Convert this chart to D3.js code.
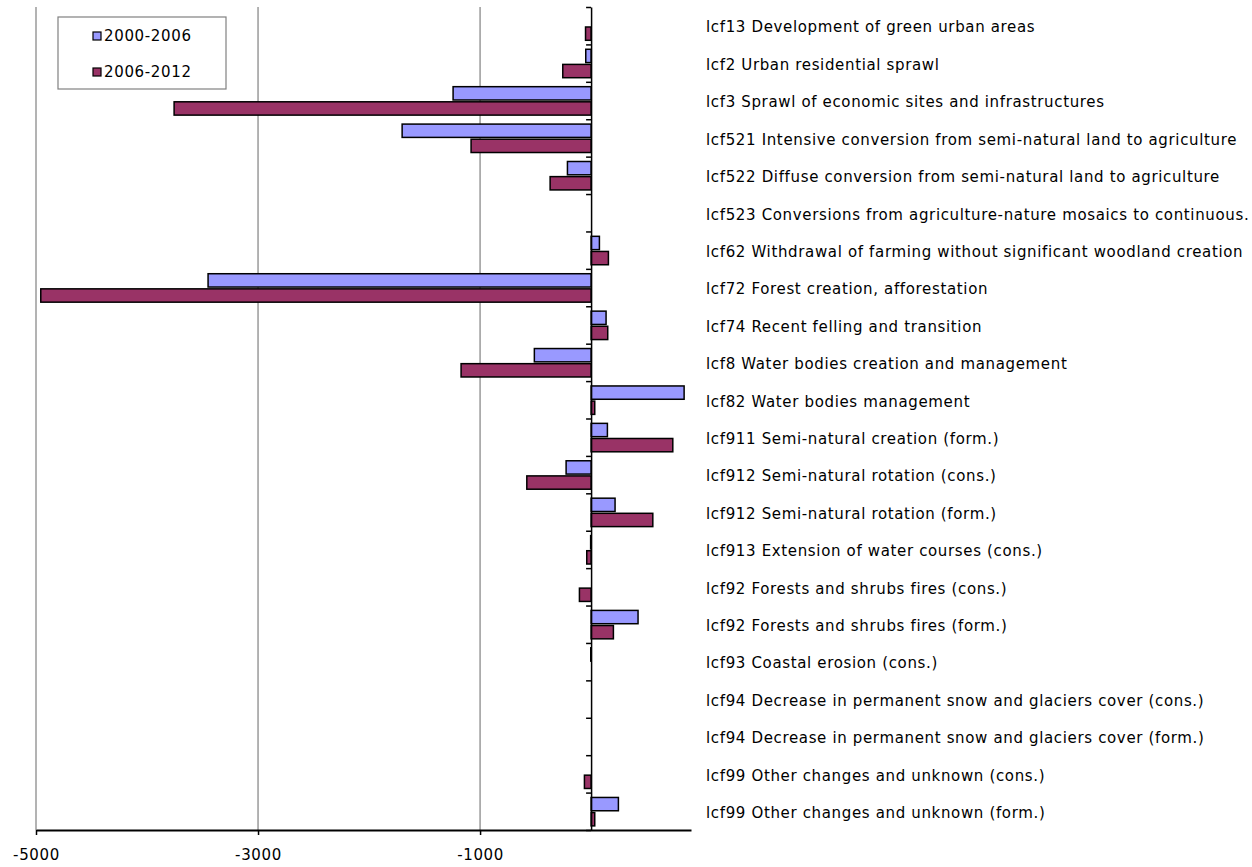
<!DOCTYPE html>
<html>
<head>
<meta charset="UTF-8">
<script src="https://d3js.org/d3.v7.min.js"></script>
<style>
  body { margin: 0; background: #fff; font-family: "DejaVu Sans", Verdana, sans-serif; }
  .cat-label { font-size: 15px; letter-spacing: 0.65px; fill: #000; }
  .x-label { font-size: 15px; letter-spacing: 0.65px; fill: #000; }
  .legend-text { font-size: 15px; letter-spacing: 0.65px; fill: #000; }
</style>
</head>
<body>
<svg width="1252" height="867"></svg>
<script>
const categories = [
  "lcf13 Development of green urban areas",
  "lcf2 Urban residential sprawl",
  "lcf3 Sprawl of economic sites and infrastructures",
  "lcf521 Intensive conversion from semi-natural land to agriculture",
  "lcf522 Diffuse conversion from semi-natural land to agriculture",
  "lcf523 Conversions from agriculture-nature mosaics to continuous.",
  "lcf62 Withdrawal of farming without significant woodland creation",
  "lcf72 Forest creation, afforestation",
  "lcf74 Recent felling and transition",
  "lcf8 Water bodies creation and management",
  "lcf82 Water bodies management",
  "lcf911 Semi-natural creation (form.)",
  "lcf912 Semi-natural rotation (cons.)",
  "lcf912 Semi-natural rotation (form.)",
  "lcf913 Extension of water courses (cons.)",
  "lcf92 Forests and shrubs fires (cons.)",
  "lcf92 Forests and shrubs fires (form.)",
  "lcf93 Coastal erosion (cons.)",
  "lcf94 Decrease in permanent snow and glaciers cover (cons.)",
  "lcf94 Decrease in permanent snow and glaciers cover (form.)",
  "lcf99 Other changes and unknown (cons.)",
  "lcf99 Other changes and unknown (form.)"
];
const seriesNames = ["2000-2006", "2006-2012"];
const values2000_2006 = [0, -48, -1243, -1702, -213, 0, 75, -3450, 135, -511, 838, 147, -225, 216, -4, 0, 423, -3, 0, 0, 0, 246];
const values2006_2012 = [-50, -255, -3756, -1081, -369, 0, 156, -4957, 150, -1171, 33, 736, -579, 556, -39, -105, 201, 0, 0, 0, -60, 33];
const xTicks = [-5000, -3000, -1000];
const colors = ["#9999ff", "#993366"];

const svg = d3.select("svg");
const plot = { left: 36, right: 691, top: 7, bottom: 830 };

const x = d3.scaleLinear().domain([-5000, 900]).range([plot.left, plot.right]);
const y = d3.scaleBand().domain(categories).range([plot.top, plot.bottom]).padding(0);
const ySub = d3.scaleBand().domain(seriesNames)
  .range([y.bandwidth() * 0.13, y.bandwidth() * 0.89]).paddingInner(0.12);
const color = d3.scaleOrdinal(seriesNames, colors);

const rows = categories.map((c, i) => ({ cat: c, vals: [values2000_2006[i], values2006_2012[i]] }));

// gridlines
svg.append("g").selectAll("line").data(xTicks).join("line")
  .attr("x1", d => x(d)).attr("x2", d => x(d))
  .attr("y1", plot.top).attr("y2", plot.bottom)
  .attr("stroke", "#808080").attr("stroke-width", 1.2);

// bars
const groups = svg.append("g").selectAll("g").data(rows).join("g")
  .attr("transform", d => `translate(0,${y(d.cat)})`);
groups.selectAll("rect")
  .data(d => d.vals.map((v, k) => ({ s: seriesNames[k], v })).filter(e => e.v !== 0))
  .join("rect")
  .attr("x", e => x(Math.min(0, e.v)))
  .attr("width", e => Math.abs(x(e.v) - x(0)))
  .attr("y", e => ySub(e.s))
  .attr("height", ySub.bandwidth())
  .attr("fill", e => color(e.s))
  .attr("stroke", "#000").attr("stroke-width", 1.5);

// vertical zero axis with ticks at category boundaries
const yEdges = d3.scaleLinear().domain([0, categories.length]).range([plot.top, plot.bottom]);
svg.append("g")
  .attr("transform", `translate(${x(0)},0)`)
  .call(d3.axisLeft(yEdges).tickValues(d3.range(categories.length + 1)).tickFormat("").tickSize(5).tickSizeOuter(0))
  .call(g => g.selectAll("line, path").attr("stroke", "#000").attr("stroke-width", 1.5));

// bottom axis
svg.append("g")
  .attr("transform", `translate(0,${plot.bottom})`)
  .call(d3.axisBottom(x).tickValues(xTicks).tickFormat(d => String(d)).tickSize(5).tickSizeOuter(0).tickPadding(14))
  .call(g => g.attr("font-family", null).attr("font-size", null))
  .call(g => g.select(".domain").attr("stroke", "#000").attr("stroke-width", 2))
  .call(g => g.selectAll(".tick line").attr("stroke", "#000").attr("stroke-width", 1.5))
  .call(g => g.selectAll("text").attr("class", "x-label"));

// category labels on the right
svg.append("g")
  .attr("transform", `translate(706,0)`)
  .call(d3.axisRight(y).tickSize(0).tickPadding(0))
  .call(g => g.attr("font-family", null).attr("font-size", null))
  .call(g => g.select(".domain").remove())
  .call(g => g.selectAll("text").attr("class", "cat-label").attr("dy", "0.45em"));

// legend
const legend = svg.append("g").attr("transform", "translate(58,17)");
legend.append("rect").attr("width", 168).attr("height", 72)
  .attr("fill", "#fff").attr("stroke", "#808080").attr("stroke-width", 1.2);
const items = legend.selectAll("g.item").data(seriesNames).join("g")
  .attr("class", "item")
  .attr("transform", (d, i) => `translate(35,${19 + i * 36})`);
items.append("rect").attr("x", 0).attr("y", -4).attr("width", 8).attr("height", 8)
  .attr("fill", d => color(d)).attr("stroke", "#000").attr("stroke-width", 1.2);
items.append("text").attr("class", "legend-text").attr("x", 11).attr("dy", "0.35em").text(d => d);
</script>
</body>
</html>
